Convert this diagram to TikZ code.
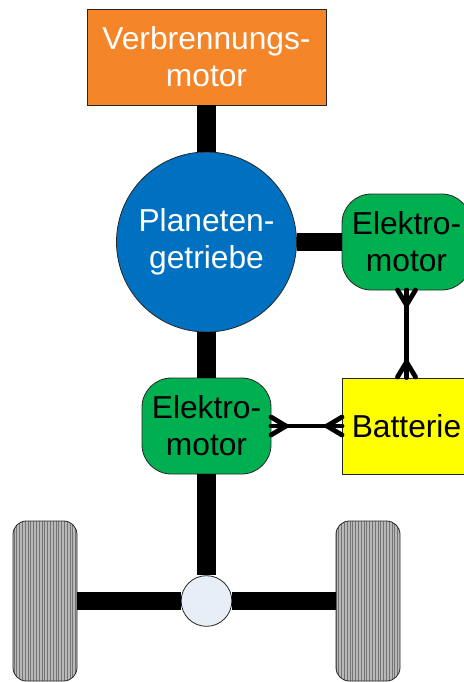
\documentclass[tikz,border=0pt]{standalone}
\usepackage{fontspec}
\setmainfont{Liberation Sans}
\usepackage{tikz}
\usetikzlibrary{patterns.meta}
\definecolor{engineorange}{HTML}{F58529}
\definecolor{gearblue}{HTML}{0070C0}
\definecolor{motorgreen}{HTML}{00B050}
\definecolor{batteryyellow}{HTML}{FFFF00}
\definecolor{diffblue}{HTML}{E8EEF7}

\begin{document}
\begin{tikzpicture}[x=0.75pt,y=-0.75pt,font=\fontsize{23.8}{27.6}\selectfont]
        % Setup the styles for the parts
        \tikzset{part style/.style={draw=black!85,
                                    line width=0.6pt,
                                    inner sep=0pt,
                                    align=center},
                 box style/.style={part style,
                                   rectangle,
                                   minimum height=72pt},
                 motor style/.style={box style,
                                     minimum width=96.75pt,
                                     rounded corners=22pt,
                                     fill=motorgreen},
                 wheel style/.style={part style,
                                     rectangle,
                                     minimum width=48pt,
                                     minimum height=120pt,
                                     rounded corners=10pt,
                                     preaction={fill=black!28},
                                     pattern={Lines[angle=90,distance=2.1pt,line width=0.6pt]},
                                     pattern color=black!55},
                 shaft/.style={line width=14pt},
                 wire/.style={line width=3.6pt,line cap=round}}
        \useasboundingbox (0,0) rectangle (464,682);

        % Draw the parts
        \node[box style,minimum width=179.25pt,fill=engineorange,text=white] at (206.5,57) (engine) {Verbrennungs-\\motor};
        \node[part style,circle,minimum size=135pt,fill=gearblue,text=white] at (206.5,242) (gear) {Planeten-\\getriebe};
        \node[motor style] at (406.5,242) (motortop) {Elektro-\\motor};
        \node[motor style] at (206.5,426) (motorlow) {Elektro-\\motor};
        \node[box style,minimum width=96.75pt,fill=batteryyellow] at (406.5,426) (battery) {Batterie};
        \node[part style,circle,minimum size=38pt,fill=diffblue] at (206.5,601) (diff) {};
        \node[wheel style] at (45,601) (wheelleft) {};
        \node[wheel style] at (368,601) (wheelright) {};

        % Connect the parts with shafts
        \draw[shaft]
            (engine) -- (gear)
            (gear) -- (motortop)
            (gear) -- (motorlow)
            (motorlow) -- (diff)
            (wheelleft) -- (diff)
            (diff) -- (wheelright);

        % Connect the battery with wires
        \draw[wire] (motortop) -- (battery);
        \draw[wire] (motorlow) -- (battery);

        % Draw the forked wire ends
        \coordinate (forktop) at (406.5,305);
        \coordinate (forkbat) at (406.5,362);
        \coordinate (forklow) at (286,426);
        \coordinate (forkright) at (327,426);
        \foreach \off in {-9,0,9} {
            \draw[wire] (forktop) -- ++(\off,-15);
            \draw[wire] (forkbat) -- ++(\off,15);
            \draw[wire] (forklow) -- ++(-15,\off);
            \draw[wire] (forkright) -- ++(15,\off);
        }
\end{tikzpicture}
\end{document}
